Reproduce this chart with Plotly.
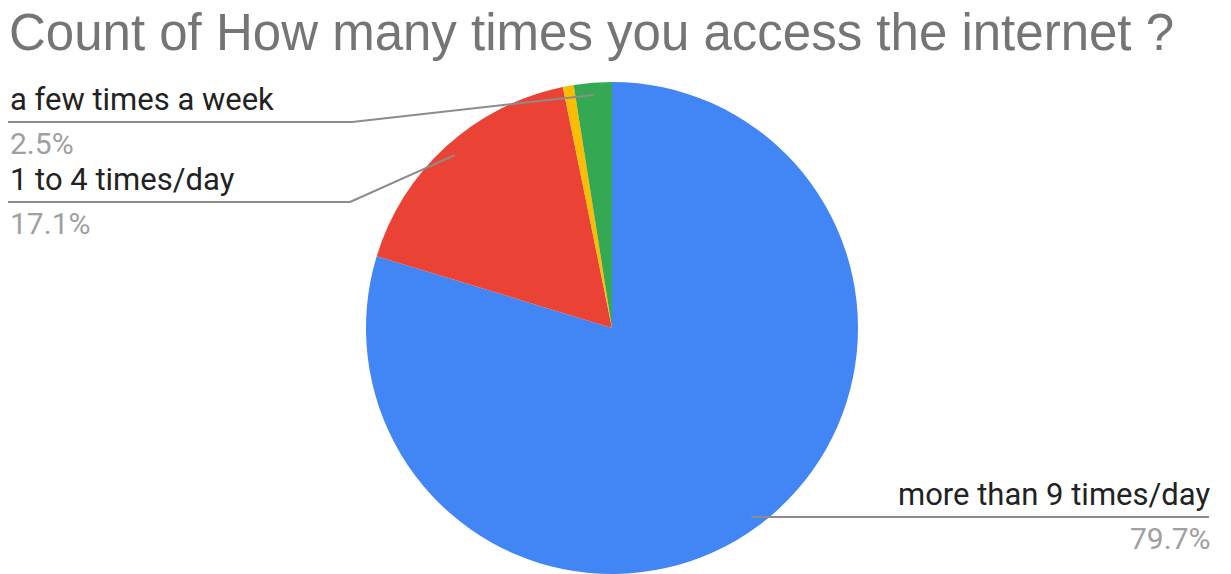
import math
import plotly.graph_objects as go

# Survey answers (response counts), in slice order clockwise from 12 o'clock
categories = ["more than 9 times/day", "1 to 4 times/day", "less than once a day", "a few times a week"]
counts = [224, 48, 2, 7]
colors = ["#4285f4", "#ea4335", "#fbbc04", "#34a853"]
title_text = "Count of How many times you access the internet ?"

W, H = 1231, 574
CX, CY, R = 612, 328, 246  # pie centre and radius, in pixels

total = sum(counts)
shares = [c / total for c in counts]

fig = go.Figure()

fig.add_trace(go.Pie(
    labels=categories,
    values=counts,
    marker=dict(colors=colors, line=dict(width=0)),
    sort=False,
    direction="clockwise",
    rotation=0,
    textinfo="none",
    hoverinfo="label+value+percent",
    showlegend=False,
    domain=dict(x=[(CX - R) / W, (CX + R) / W], y=[(H - CY - R) / H, (H - CY + R) / H]),
))

# Pixel-space overlay axis for leader lines and anchor dots
fig.update_xaxes(range=[0, W], visible=False, fixedrange=True)
fig.update_yaxes(range=[H, 0], visible=False, fixedrange=True)


def mid_point(i, frac=0.95):
    start = sum(shares[:i])
    a = 2 * math.pi * (start + shares[i] / 2)
    return CX + frac * R * math.sin(a), CY - frac * R * math.cos(a)


LINE = dict(color="#8c8c8c", width=2)
LABEL_FONT = dict(family="Roboto, Arial, sans-serif", size=31, color="#222222")
PCT_FONT = dict(family="Roboto, Arial, sans-serif", size=30, color="#a0a0a0")

# label layout: (slice index, side, underline y, elbow x)
label_layout = [
    (3, "left", 122, 352),
    (1, "left", 202, 350),
    (0, "right", 517, None),
]

dots_x, dots_y = [], []
for idx, side, ly, ex in label_layout:
    px, py = mid_point(idx)
    dots_x.append(px)
    dots_y.append(py)
    pct = f"{shares[idx] * 100:.1f}%"
    if side == "left":
        fig.add_shape(type="line", xref="x", yref="y", x0=8, y0=ly, x1=ex, y1=ly, line=LINE)
        fig.add_shape(type="line", xref="x", yref="y", x0=ex, y0=ly, x1=px, y1=py, line=LINE)
        tx, anchor = 8, "left"
    else:
        fig.add_shape(type="line", xref="x", yref="y", x0=px, y0=ly, x1=1209, y1=ly, line=LINE)
        tx, anchor = 1212, "right"
    fig.add_annotation(x=tx, y=ly - 2, xref="x", yref="y", text=categories[idx],
                       showarrow=False, xanchor=anchor, yanchor="bottom", font=LABEL_FONT)
    fig.add_annotation(x=tx, y=ly + 2, xref="x", yref="y", text=pct,
                       showarrow=False, xanchor=anchor, yanchor="top", font=PCT_FONT)

fig.add_trace(go.Scatter(x=dots_x, y=dots_y, mode="markers",
                         marker=dict(size=9, color="#9e9e9e"),
                         hoverinfo="skip", showlegend=False))

fig.add_annotation(x=7, y=32, xref="x", yref="y", text=title_text, showarrow=False,
                   xanchor="left", yanchor="middle",
                   font=dict(family="Liberation Sans, Arial, sans-serif", size=51, color="#757575"))

fig.update_layout(
    width=W, height=H,
    margin=dict(l=0, r=0, t=0, b=0),
    paper_bgcolor="white", plot_bgcolor="white",
)

fig.write_html("out.html")
